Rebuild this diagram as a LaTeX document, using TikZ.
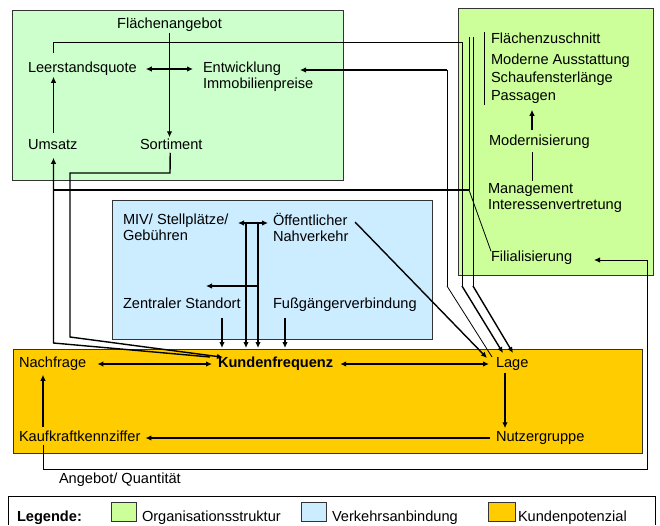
\documentclass[tikz,border=0pt]{standalone}
\usepackage{fontspec}
\setmainfont{Liberation Sans}
\usetikzlibrary{arrows.meta}
\definecolor{gA}{HTML}{CCFFCC}
\definecolor{gB}{HTML}{CCFF99}
\definecolor{bl}{HTML}{CCECFF}
\definecolor{og}{HTML}{FFCC00}
\definecolor{bd}{HTML}{333333}
\begin{document}
\begin{tikzpicture}[x=1pt,y=-1pt,
  txt/.style={font=\fontsize{14.6pt}{15.5pt}\selectfont, inner sep=0pt, outer sep=0pt, text height=10.5pt, text depth=3pt, anchor=west},
  mtxt/.style={font=\fontsize{14.6pt}{15.5pt}\selectfont, inner sep=0pt, outer sep=0pt, align=left, anchor=west},
  region/.style={draw=bd, line width=0.9pt},
  tk/.style={line width=1.4pt},
  md/.style={line width=1pt},
  tn/.style={line width=0.8pt},
  arr/.style={tk, -{Latex[length=6pt,width=5.5pt]}},
  darr/.style={tk, {Latex[length=6pt,width=5.5pt]}-{Latex[length=6pt,width=5.5pt]}},
]
\useasboundingbox (0,0) rectangle (660,525);
\fill[white] (0,0) rectangle (660,525);

% regions
\draw[region, fill=gA] (12,10) rectangle (343,180);
\draw[region, fill=gB] (458,8) rectangle (653,275);
\draw[region, fill=bl] (112,200) rectangle (432,339);
\draw[region, fill=og] (13,349) rectangle (642,453);

% texts
\node[txt, anchor=center] (fa) at (169.5,25) {Flächenangebot};
\node[txt] (lq) at (28,69) {Leerstandsquote};
\node[mtxt] (ei) at (203,76.5) {Entwicklung\\Immobilienpreise};
\node[txt] (um) at (28,146) {Umsatz};
\node[txt] (so) at (140,146) {Sortiment};

\node[txt] (fz) at (491,40) {Flächenzuschnitt};
\node[txt] (ma) at (491,61) {Moderne Ausstattung};
\node[txt] (sl) at (491,79) {Schaufensterlänge};
\node[txt] (pa) at (491,97) {Passagen};
\node[txt] (mo) at (489,142) {Modernisierung};
\node[mtxt] (mg) at (488,198) {Management\\Interessenvertretung};
\node[txt] (fi) at (491,258) {Filialisierung};

\node[mtxt] (miv) at (123,227.5) {MIV/ Stellplätze/\\Gebühren};
\node[mtxt] (oe) at (273,227.5) {Öffentlicher\\Nahverkehr};
\node[txt] (zs) at (123,305) {Zentraler Standort};
\node[txt] (fg) at (273,305) {Fußgängerverbindung};

\node[txt] (na) at (19,364) {Nachfrage};
\node[txt, font=\fontsize{14.6pt}{15.5pt}\selectfont\bfseries] (kf) at (218,364) {Kundenfrequenz};
\node[txt] (la) at (496,364) {Lage};
\node[txt] (kk) at (19,438) {Kaufkraftkennziffer};
\node[txt] (ng) at (496,438) {Nutzergruppe};
\node[txt] (aq) at (59,480) {Angebot/ Quantität};

% helper coordinates
\coordinate (xu) at (53.5,0);
\coordinate (xm) at (532,0);
\coordinate (xl) at (505,0);
\coordinate (xk) at (43,0);
\coordinate (xz) at (222,0);
\coordinate (xf) at (285,0);
\coordinate (eiT) at (300,70);
\coordinate (kfU) at (210,357);
\coordinate (laA) at (487,358);
\coordinate (laB) at (492,357);
\coordinate (laC) at (503,353);
\coordinate (laD) at (513,353);
\coordinate (fiT) at (594,260);

% green box 1 connectors
\draw[arr, shorten <=1pt, shorten >=2pt] (fa.south) -- (fa.south |- so.north);
\draw[darr, shorten <=9pt, shorten >=10pt] (lq.east) -- (lq.east -| ei.west);
\draw[arr, shorten <=6pt, shorten >=1pt] (um.north -| xu) -- (lq.south -| xu);

% Leerstandsquote -> Lage
\draw[tn, shorten <=9pt] (lq.north -| xu) -- (53.5,42) -- (462,42) -- (462,286);
\draw[arr] (462,286) -- (laC);
% Entwicklung line
\draw[arr] (447,70) -- (eiT);
\draw[md] (447,70) -- (447,286);
\draw[tn] (447,286) -- (laB);
% bracket group lines
\draw[tn] (469,37) -- (469,190);
\draw[md] (473,37) -- (473,286);
\draw[arr] (473,286) -- (laD);
\draw[tn] (484,32) -- (484,105);
% Filialisierung / Umsatz line
\draw[tn] (fi.north west) -- (469,190);
\draw[tk] (469,190) -- (53.5,190);

% Kundenfrequenz -> Umsatz
\draw[arr, shorten >=5pt] (kfU) -- (53.5,343) -- (um.south -| xu);
% Sortiment -> Kundenfrequenz
\draw[arr] ([xshift=-1pt]so.south) -- (170,173) -- (70,173) -- (70,337) -- ([xshift=5pt]kf.north west);

% green box 2 connectors
\draw[arr, shorten <=5pt, shorten >=6pt] (mo.north -| xm) -- (pa.south -| xm);
\draw[md, shorten <=3pt, shorten >=3pt] (mg.north -| xm) -- (mo.south -| xm);

% blue box connectors
\draw[darr] (238,223) -- (268,223);
\draw[arr] (246,223) -- (246,348);
\draw[arr] (258,223) -- (258,348);
\draw[arr] (258,286) -- (206,286);
\draw[arr, shorten <=6pt] (zs.south -| xz) -- (222,348);
\draw[arr, shorten <=6pt] (fg.south -| xf) -- (285,348);
\draw[arr] (355,222) -- (laA);

% orange box connectors
\draw[darr, shorten <=11pt, shorten >=6pt] (na.east) -- (kf.west);
\draw[darr, shorten <=7pt, shorten >=7pt] (kf.east) -- (la.west);
\draw[arr, shorten <=2pt, shorten >=3pt] (la.south -| xl) -- (ng.north -| xl);
\draw[arr, shorten <=6pt, shorten >=5pt] (ng.west) -- (kk.east);
\draw[arr, shorten <=4pt, shorten >=4pt] (kk.north -| xk) -- (na.south -| xk);
\draw[md, -{Latex[length=6pt,width=5.5pt]}] (kk.south -| xk) -- (43,469) -- (647,469) -- (647,260) -- (fiT);

% legend
\draw[tn] (8,525) -- (8,496) -- (655,496) -- (655,525);
\node[txt] (lg) at (17,518) {\underline{\textbf{Legende:}}};
\draw[region, fill=gB] (111,502) rectangle (136,521);
\node[txt] (l1) at (142,518) {Organisationsstruktur};
\draw[region, fill=bl] (301,502) rectangle (326,521);
\node[txt] (l2) at (332,518) {Verkehrsanbindung};
\draw[region, fill=og] (488,502) rectangle (515,521);
\node[txt] (l3) at (518,518) {Kundenpotenzial};
\end{tikzpicture}
\end{document}
